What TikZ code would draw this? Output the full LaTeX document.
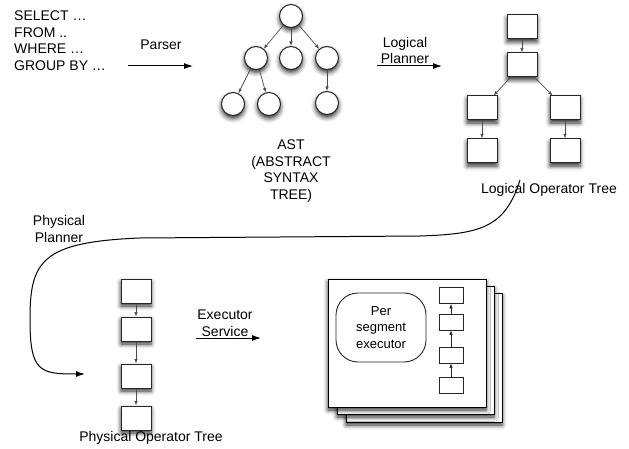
\documentclass[tikz,border=0pt]{standalone}
\usepackage{xcolor}
\usepackage{fontspec}
\setmainfont{Liberation Sans}
\usepackage{tikz}
\usetikzlibrary{arrows.meta, shadows.blur, positioning}
\definecolor{boxline}{rgb}{0.15, 0.15, 0.15}
\definecolor{edgegray}{rgb}{0.3, 0.3, 0.3}

\begin{document}
\begin{tikzpicture}[x=1pt, y=-1pt,
		every node/.style={font=\fontsize{14}{16.5}\selectfont, align=center},
		softshadow/.style={blur shadow={shadow xshift=0pt, shadow yshift=-3pt, shadow blur radius=4.5pt, shadow opacity=85}},
		treenode/.style={circle, draw=boxline, fill=white, line width=1pt, minimum size=23pt, inner sep=0pt, softshadow},
		opbox/.style={rectangle, draw=boxline, fill=white, line width=1pt, minimum width=30pt, minimum height=24pt, inner sep=0pt, softshadow},
		minibox/.style={rectangle, draw=boxline, fill=white, line width=0.8pt, minimum width=24pt, minimum height=16pt, inner sep=0pt},
		page/.style={draw=black, fill=white, line width=0.9pt, softshadow},
		treeedge/.style={draw=edgegray, line width=0.7pt, -{Latex[length=4.5pt, width=3.5pt]}},
		upedge/.style={draw=boxline, line width=0.7pt, -{Latex[length=4.5pt, width=3.5pt]}},
		steparrow/.style={line width=1pt, -{Latex[length=9pt, width=6pt]}}]
		\useasboundingbox (0,0) rectangle (629,449);
		\node[anchor=west, align=left, inner sep=0pt] (sql) at (14,40.5) {SELECT \dots\\FROM ..\\WHERE \dots\\GROUP BY \dots};
		\node (parser) at (161,45) {Parser};
		\coordinate (parse-s) at (128,66);
		\coordinate (parse-e) at (193,66);
		\draw[steparrow] (parse-s) -- (parse-e);
		\node[treenode] (a0) at (291,16) {};
		\node[treenode] (a1) at (256,58) {};
		\node[treenode] (a2) at (291,58) {};
		\node[treenode] (a3) at (327,58) {};
		\node[treenode] (a4) at (233,104) {};
		\node[treenode] (a5) at (269,104) {};
		\node[treenode] (a6) at (327,103) {};
		\foreach \from/\to in {a0/a1, a0/a2, a0/a3, a1/a4, a1/a5, a3/a6}
			\draw[treeedge] (\from) -- (\to);
		\node (ast) at (291,171) {AST\\(ABSTRACT\\SYNTAX\\TREE)};
		\node (logplan) at (405,50.5) {Logical\\Planner};
		\coordinate (log-s) at (377,66);
		\coordinate (log-e) at (442,66);
		\draw[steparrow] (log-s) -- (log-e);
		\node[opbox] (l1) at (522,27) {};
		\node[opbox] (l2) at (522,65) {};
		\node[opbox] (l3) at (482,108) {};
		\node[opbox] (l4) at (565,108) {};
		\node[opbox] (l5) at (482,151) {};
		\node[opbox] (l6) at (565,151) {};
		\foreach \from/\to in {l1/l2, l2/l3, l2/l4, l3/l5, l4/l6}
			\draw[treeedge] (\from) -- (\to);
		\node (logtree) at (549,190) {Logical Operator Tree};
		\node (physplan) at (59,229) {Physical\\Planner};
		\coordinate (phys-s) at (520,180);
		\coordinate (phys-e) at (85,374);
		\draw[steparrow] (phys-s) .. controls (505,228) and (480,234) .. (420,236) -- (140,238) .. controls (40,242) and (30,262) .. (30,320) .. controls (30,372) and (40,374) .. (phys-e);
		\node[opbox] (p1) at (136,291) {};
		\node[opbox] (p2) at (136,329) {};
		\node[opbox] (p3) at (136,376) {};
		\node[opbox] (p4) at (136,418) {};
		\foreach \from/\to in {p1/p2, p2/p3, p3/p4}
			\draw[treeedge] (\from) -- (\to);
		\node (phystree) at (151,438) {Physical Operator Tree};
		\node (execserv) at (225,323.5) {Executor\\Service};
		\coordinate (exec-s) at (196,338);
		\coordinate (exec-e) at (261,338);
		\draw[steparrow] (exec-s) -- (exec-e);
		\draw[page] (346,293) rectangle (502,422);
		\draw[page] (337,286) rectangle (494,414);
		\draw[page] (328,279) rectangle (486,407);
		\node[draw=boxline, fill=white, line width=0.9pt, rounded corners=22pt, minimum width=90pt, minimum height=69pt, font=\fontsize{13}{16.5}\selectfont] (segexec) at (381,327.5) {Per\\segment\\executor};
		\node[minibox] (s1) at (451,295.5) {};
		\node[minibox] (s2) at (451,322) {};
		\node[minibox] (s3) at (451,355) {};
		\node[minibox] (s4) at (451,385) {};
		\foreach \from/\to in {s4/s3, s3/s2, s2/s1}
			\draw[upedge] (\from) -- (\to);
\end{tikzpicture}
\end{document}
